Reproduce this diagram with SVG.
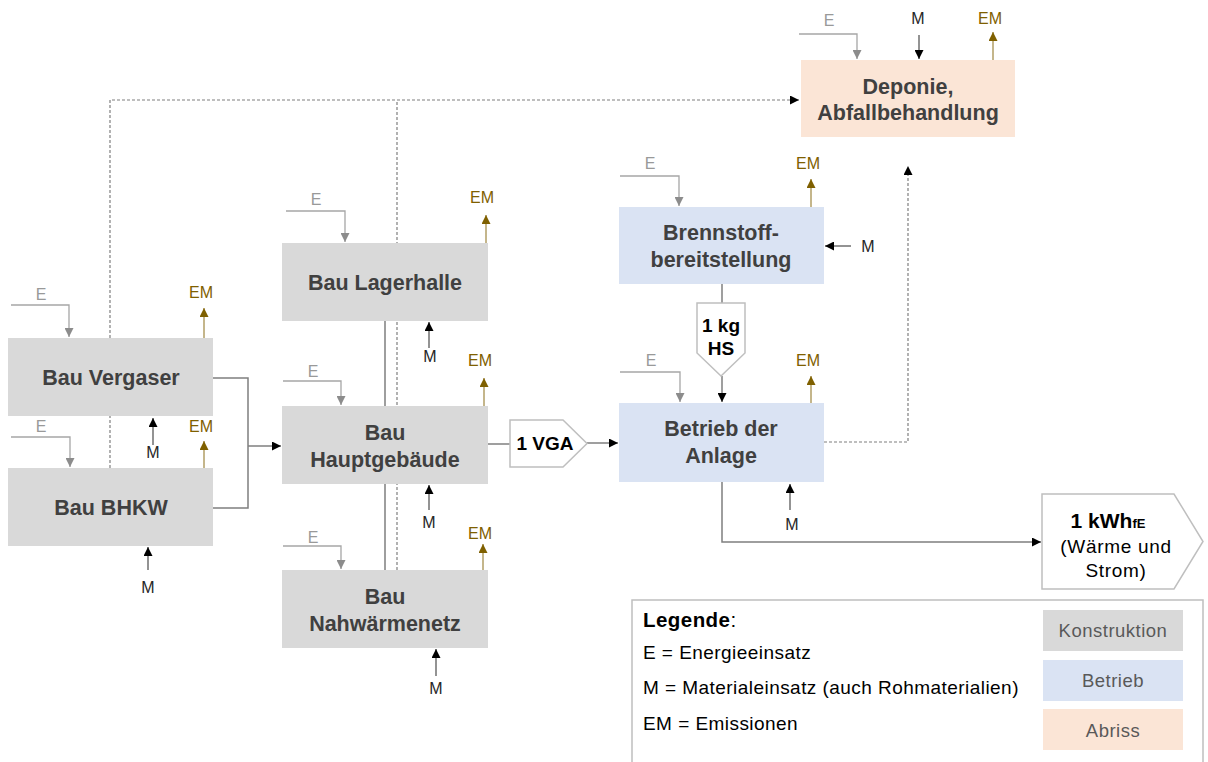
<svg xmlns="http://www.w3.org/2000/svg" width="1208" height="762" viewBox="0 0 1208 762">
<defs>
<style>
.box-k{fill:#d9d9d9}
.box-b{fill:#dae3f3}
.box-a{fill:#fbe5d6}
.t{font-family:"Liberation Sans",Arial,sans-serif;font-weight:bold;font-size:21.5px;fill:#404040;text-anchor:middle}
.tb{font-family:"Liberation Sans",Arial,sans-serif;font-weight:bold;font-size:19px;fill:#000;text-anchor:middle}
.tr{font-family:"Liberation Sans",Arial,sans-serif;font-size:19px;letter-spacing:0.7px;fill:#000;text-anchor:middle}
.lE{font-family:"Liberation Sans",Arial,sans-serif;font-size:16px;fill:#999;text-anchor:middle}
.lM{font-family:"Liberation Sans",Arial,sans-serif;font-size:16px;fill:#262626;text-anchor:middle}
.lEM{font-family:"Liberation Sans",Arial,sans-serif;font-size:16px;fill:#7f6000;text-anchor:middle}
.lg{font-family:"Liberation Sans",Arial,sans-serif;font-size:19px;letter-spacing:0.45px;fill:#000}
.lgb{font-family:"Liberation Sans",Arial,sans-serif;font-size:18.5px;letter-spacing:0.5px;fill:#595959;text-anchor:middle}
.cE{fill:none;stroke:#a6a6a6;stroke-width:1.3}
.cM{fill:none;stroke:#595959;stroke-width:1.3}
.cEM{fill:none;stroke:#7f6000;stroke-width:1.3;stroke-opacity:0.7}
.cF{fill:none;stroke:#7f7f7f;stroke-width:1.5}
.cD{fill:none;stroke:#7f7f7f;stroke-width:1.2;stroke-dasharray:3 2}
.pent{fill:#fff;stroke:#bfbfbf;stroke-width:1.5}
</style>
<marker id="aB" viewBox="0 0 10 10" refX="10" refY="5" markerWidth="9" markerHeight="9" markerUnits="userSpaceOnUse" orient="auto"><path d="M0,0 L10,5 L0,10 z" fill="#000"/></marker>
<marker id="aG" viewBox="0 0 10 10" refX="10" refY="5" markerWidth="9" markerHeight="9" markerUnits="userSpaceOnUse" orient="auto"><path d="M0,0 L10,5 L0,10 z" fill="#8c8c8c"/></marker>
<marker id="aY" viewBox="0 0 10 10" refX="10" refY="5" markerWidth="9" markerHeight="9" markerUnits="userSpaceOnUse" orient="auto"><path d="M0,0 L10,5 L0,10 z" fill="#7f6000"/></marker>
</defs>
<rect width="1208" height="762" fill="#fff"/>

<g id="connectors">
<path class="cD" d="M110,468 V416 M110,338 V100 H799" marker-end="url(#aB)"/>
<path class="cD" d="M397,570 V100"/>
<path class="cD" d="M824,442 H908 V166" marker-end="url(#aB)"/>
<path class="cF" d="M213,378 H248 V508 H213"/>
<path class="cF" d="M248,446 H281" marker-end="url(#aB)"/>
<path class="cF" d="M385,321 V406 M385,484 V570"/>
<path class="cF" d="M488,444 H510"/>
<path class="cF" d="M587,443 H618" marker-end="url(#aB)"/>
<path class="cF" d="M722,284 V303"/>
<path class="cF" d="M722,376 V402" marker-end="url(#aB)"/>
<path class="cF" d="M722,482 V542 H1041" marker-end="url(#aB)"/>
<path class="cE" d="M11,305 H69 V337" marker-end="url(#aG)"/>
<path class="cE" d="M11,437 H70 V467" marker-end="url(#aG)"/>
<path class="cE" d="M286,211 H345 V242" marker-end="url(#aG)"/>
<path class="cE" d="M283,381 H341 V405" marker-end="url(#aG)"/>
<path class="cE" d="M283,546 H341 V569" marker-end="url(#aG)"/>
<path class="cE" d="M620,176 H679 V206" marker-end="url(#aG)"/>
<path class="cE" d="M620,372 H680 V402" marker-end="url(#aG)"/>
<path class="cE" d="M799,34 H857 V59" marker-end="url(#aG)"/>
<path class="cEM" d="M204,338 V308" marker-end="url(#aY)"/>
<path class="cEM" d="M204,468 V441" marker-end="url(#aY)"/>
<path class="cEM" d="M486,243 V215" marker-end="url(#aY)"/>
<path class="cEM" d="M484,406 V378" marker-end="url(#aY)"/>
<path class="cEM" d="M483,570 V544" marker-end="url(#aY)"/>
<path class="cEM" d="M811,207 V179" marker-end="url(#aY)"/>
<path class="cEM" d="M811,403 V376" marker-end="url(#aY)"/>
<path class="cEM" d="M993,60 V32" marker-end="url(#aY)"/>
<path class="cM" d="M153,445 V418" marker-end="url(#aB)"/>
<path class="cM" d="M148,570 V547" marker-end="url(#aB)"/>
<path class="cM" d="M429,348 V322" marker-end="url(#aB)"/>
<path class="cM" d="M429,510 V485" marker-end="url(#aB)"/>
<path class="cM" d="M436,676 V649" marker-end="url(#aB)"/>
<path class="cM" d="M851,246 H825" marker-end="url(#aB)"/>
<path class="cM" d="M790,510 V484" marker-end="url(#aB)"/>
<path class="cM" d="M919,35 V59" marker-end="url(#aB)"/>
</g>

<g id="labels">
<text class="lE" x="41" y="300">E</text>
<text class="lE" x="41" y="432">E</text>
<text class="lE" x="316" y="205">E</text>
<text class="lE" x="313" y="377">E</text>
<text class="lE" x="313" y="543">E</text>
<text class="lE" x="650" y="169">E</text>
<text class="lE" x="651" y="366">E</text>
<text class="lE" x="829" y="26">E</text>
<text class="lEM" x="201" y="298">EM</text>
<text class="lEM" x="201" y="432">EM</text>
<text class="lEM" x="482" y="203">EM</text>
<text class="lEM" x="480" y="366">EM</text>
<text class="lEM" x="480" y="539">EM</text>
<text class="lEM" x="808" y="169">EM</text>
<text class="lEM" x="808" y="366">EM</text>
<text class="lEM" x="990" y="24">EM</text>
<text class="lM" x="153" y="458">M</text>
<text class="lM" x="148" y="593">M</text>
<text class="lM" x="430" y="362">M</text>
<text class="lM" x="429" y="528">M</text>
<text class="lM" x="436" y="694">M</text>
<text class="lM" x="868" y="252">M</text>
<text class="lM" x="792" y="530">M</text>
<text class="lM" x="918" y="24">M</text>
</g>

<g id="node-vergaser">
<rect class="box-k" x="8" y="338" width="205" height="78"/>
<text class="t" x="111" y="385">Bau Vergaser</text>
</g>
<g id="node-bhkw">
<rect class="box-k" x="8" y="468" width="205" height="78"/>
<text class="t" x="111" y="515">Bau BHKW</text>
</g>
<g id="node-lagerhalle">
<rect class="box-k" x="282" y="243" width="206" height="78"/>
<text class="t" x="385" y="290">Bau Lagerhalle</text>
</g>
<g id="node-hauptgebaeude">
<rect class="box-k" x="282" y="406" width="206" height="78"/>
<text class="t" x="385" y="440">Bau</text>
<text class="t" x="385" y="467">Hauptgebäude</text>
</g>
<g id="node-nahwaermenetz">
<rect class="box-k" x="282" y="570" width="206" height="78"/>
<text class="t" x="385" y="604">Bau</text>
<text class="t" x="385" y="631">Nahwärmenetz</text>
</g>
<g id="node-brennstoff">
<rect class="box-b" x="619" y="207" width="205" height="77"/>
<text class="t" x="721" y="240">Brennstoff-</text>
<text class="t" x="721" y="267">bereitstellung</text>
</g>
<g id="node-betrieb">
<rect class="box-b" x="619" y="403" width="205" height="79"/>
<text class="t" x="721" y="436">Betrieb der</text>
<text class="t" x="721" y="463">Anlage</text>
</g>
<g id="node-deponie">
<rect class="box-a" x="801" y="60" width="214" height="77"/>
<text class="t" x="908" y="94">Deponie,</text>
<text class="t" x="908" y="120">Abfallbehandlung</text>
</g>
<g id="node-vga">
<path class="pent" d="M510,420 H563 L587,443.5 L563,467 H510 Z"/>
<text class="tb" x="545" y="450">1 VGA</text>
</g>
<g id="node-hs">
<path class="pent" d="M697,303 H745 V353 L721,376 L697,353 Z"/>
<text class="tb" x="721" y="332">1 kg</text>
<text class="tb" x="721" y="355">HS</text>
</g>
<g id="node-kwh">
<path class="pent" d="M1042,494 H1174 L1203,541.5 L1174,589 H1042 Z"/>
<text class="tb" x="1108" y="528" style="font-size:21px">1 kWh<tspan style="font-size:13px">fE</tspan></text>
<text class="tr" x="1116" y="553">(Wärme und</text>
<text class="tr" x="1116" y="577">Strom)</text>
</g>

<g id="legend">
<path d="M632,762 V600 H1203 V762" fill="#fff" stroke="#bfbfbf" stroke-width="1.5"/>
<text class="lg" x="643" y="627" style="font-size:20.5px"><tspan font-weight="bold">Legende</tspan>:</text>
<text class="lg" x="643" y="659">E = Energieeinsatz</text>
<text class="lg" x="643" y="694">M = Materialeinsatz (auch Rohmaterialien)</text>
<text class="lg" x="643" y="730">EM = Emissionen</text>
<rect class="box-k" x="1043" y="610" width="140" height="41"/>
<text class="lgb" x="1113" y="637">Konstruktion</text>
<rect class="box-b" x="1043" y="660" width="140" height="41"/>
<text class="lgb" x="1113" y="687">Betrieb</text>
<rect class="box-a" x="1043" y="709" width="140" height="41"/>
<text class="lgb" x="1113" y="737">Abriss</text>
</g>
</svg>
